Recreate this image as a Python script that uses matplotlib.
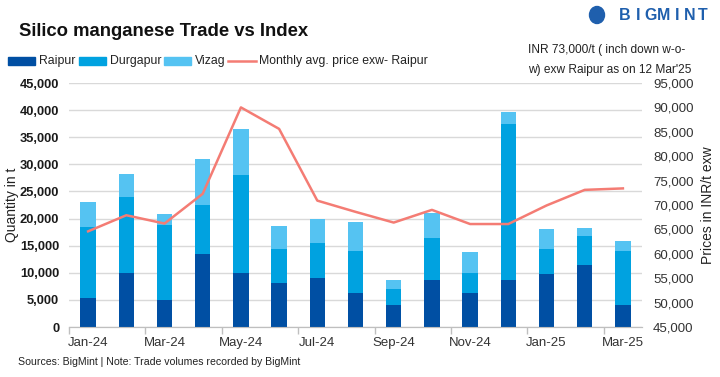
import numpy as np
import matplotlib
matplotlib.use('Agg')
import matplotlib.pyplot as plt
from matplotlib.patches import Ellipse

months = ['Jan-24', 'Feb-24', 'Mar-24', 'Apr-24', 'May-24', 'Jun-24', 'Jul-24', 'Aug-24',
          'Sep-24', 'Oct-24', 'Nov-24', 'Dec-24', 'Jan-25', 'Feb-25', 'Mar-25']
raipur = [5400, 9900, 5000, 13400, 10000, 8200, 9100, 6200, 4000, 8600, 6200, 8600, 9700, 11400, 4000]
durgapur = [13100, 14100, 13800, 9100, 18000, 6100, 6300, 7800, 3000, 7800, 3700, 28900, 4600, 5300, 10100]
vizag = [4500, 4300, 2000, 8500, 8500, 4300, 4500, 5300, 1700, 4600, 3900, 2200, 3700, 1500, 1700]
price = [64600, 67900, 66200, 72300, 90000, 85600, 70900, 68600, 66400, 69000, 66100, 66100, 69900, 73100, 73400]

c_raipur = '#004FA3'
c_durg = '#00A2E0'
c_vizag = '#55C3F2'
c_line = '#F47C74'

plt.rcParams['font.family'] = ['Liberation Sans', 'DejaVu Sans']

W, H = 720, 377
fig = plt.figure(figsize=(7.2, 3.77), dpi=100)
ax = fig.add_axes([69 / W, 1 - 327 / H, 573 / W, 244 / H])
ax2 = ax.twinx()

x = np.arange(len(months))
w = 0.4
r = np.array(raipur)
d = np.array(durgapur)
v = np.array(vizag)
ax.bar(x, r, w, color=c_raipur, zorder=3)
ax.bar(x, d, w, bottom=r, color=c_durg, zorder=3)
ax.bar(x, v, w, bottom=r + d, color=c_vizag, zorder=3)
ax2.plot(x, price, color=c_line, lw=1.8, zorder=4)

ax.set_xlim(-0.5, len(months) - 0.5)
ax.set_ylim(0, 45000)
ax2.set_ylim(45000, 95000)
ax.set_yticks(np.arange(0, 45001, 5000))
ax.set_yticklabels([f'{t:,}' for t in range(0, 45001, 5000)], fontsize=9.3, fontweight='bold', color='#1a1a1a')
ax2.set_yticks(np.arange(45000, 95001, 5000))
ax2.set_yticklabels([f'{t:,}' for t in range(45000, 95001, 5000)], fontsize=9.5, color='#333333')
ax.grid(axis='y', color='#d9d9d9', lw=1, zorder=0)
ax.set_axisbelow(True)

ax.set_xticks(x[::2])
ax.set_xticklabels(months[::2], fontsize=9.5, color='#333333')
ax.set_xticks(np.arange(-0.5, len(months), 2), minor=True)
ax.tick_params(axis='x', which='major', length=0, pad=7)
ax.tick_params(axis='x', which='minor', length=5, color='#bfbfbf', width=1)
ax.tick_params(axis='y', length=0, pad=7)
ax2.tick_params(axis='y', length=0, pad=8)

for a in (ax, ax2):
    for s in ('top', 'left', 'right'):
        a.spines[s].set_visible(False)
    a.spines['bottom'].set_color('#bfbfbf')

ax.set_ylabel('Quantity in t', fontsize=10, color='#222222')
ax.yaxis.set_label_coords(-50 / 573, 0.5)
ax2.set_ylabel('Prices in INR/t exw', fontsize=10, color='#222222')
ax2.yaxis.set_label_coords(1 + 59 / 573, 0.5)

fig.text(19 / W, 1 - 32 / H, 'Silico manganese Trade vs Index', fontsize=13.3, fontweight='bold',
         color='#111111', va='center')

# legend row, placed at the reference positions
ly = 1 - 61 / H
items = [('Raipur', c_raipur, 'bar', 8), ('Durgapur', c_durg, 'bar', 79), ('Vizag', c_vizag, 'bar', 164),
         ('Monthly avg. price exw- Raipur', c_line, 'line', 228)]
for label, col, kind, px in items:
    lx = px / W
    if kind == 'bar':
        fig.patches.append(plt.Rectangle((lx, ly - 0.011), 27 / W, 0.022, color=col,
                                          transform=fig.transFigure, figure=fig))
    else:
        fig.lines.append(plt.Line2D([lx, lx + 28 / W], [ly, ly], color=col, lw=1.8,
                                    transform=fig.transFigure, figure=fig))
    fig.text(lx + 31 / W, ly, label, fontsize=8.8, color='#222222', va='center')

fig.text(528 / W, 1 - 50 / H, 'INR 73,000/t ( inch down w-o-', fontsize=8.6, color='#222222', va='center')
fig.text(528 / W, 1 - 70 / H, "w) exw Raipur as on 12 Mar'25", fontsize=8.6, color='#222222', va='center')

# logo
logo_c = '#1F5FAD'
fig.patches.append(Ellipse((597 / W, 1 - 15 / H), 15 / W, 17 / H, color=logo_c,
                           transform=fig.transFigure, figure=fig))
for i, ch in enumerate('BIGMINT'):
    fig.text((625 + i * 13) / W, 1 - 15 / H, ch, fontsize=11.5, fontweight='bold', color=logo_c,
             va='center', ha='center')

fig.text(18 / W, 1 - 362 / H, 'Sources: BigMint | Note: Trade volumes recorded by BigMint',
         fontsize=7.6, color='#222222', va='center')

fig.savefig('out.png', dpi=100)
